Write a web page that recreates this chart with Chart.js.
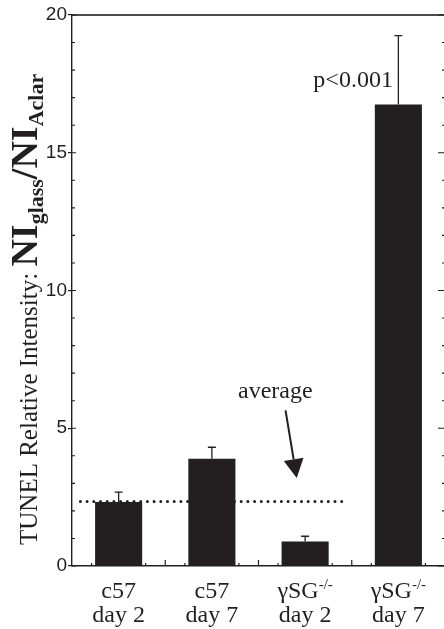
<!DOCTYPE html>
<html>
<head>
<meta charset="utf-8">
<script src="https://cdn.jsdelivr.net/npm/chart.js@4.4.1/dist/chart.umd.min.js"></script>
<style>
    html, body { margin: 0; padding: 0; background: #fff; overflow: hidden; }
    #tunel_wrap { width: 447px; height: 629px; }
</style>
</head>
<body>
<div id="tunel_wrap"><canvas id="tunel_chart" width="447" height="629"></canvas></div>
<script>
    // values
    const group_names = ['c57', 'c57', 'γSG', 'γSG'];
    const group_supers = ['', '', '-/-', '-/-'];
    const day_names = ['day 2', 'day 7', 'day 2', 'day 7'];
    const tunel_values = [2.32, 3.89, 0.89, 16.75];
    const tunel_errors = [0.36, 0.42, 0.19, 2.5];
    const average_value = 2.34;
    const average_span = [-0.41, 2.46];      // category index where the dotted line starts / stops
    const y_ticks = [0, 5, 10, 15, 20];
    const y_minor_ticks = [1, 2, 3, 4, 6, 7, 8, 9, 11, 12, 13, 14, 16, 17, 18, 19];
    const p_note = { text: 'p<0.001', category: 3, value: 17.4 };
    const avg_note = { text: 'average', category: 1.68, value: 6.1 };
    const avg_arrow = { from: [1.79, 5.65], to: [1.91, 3.19] };

    const ink = '#231f20';
    const serif = '"Liberation Serif", "Times New Roman", serif';

    function drawTitle(ctx, area) {
        const parts = [
            { t: 'TUNEL Relative Intensity: ', f: `25px ${serif}`, dy: 0 },
            { t: 'NI', f: `bold 38px ${serif}`, dy: 0 },
            { t: 'glass', f: `bold 22px ${serif}`, dy: 6 },
            { t: '/NI', f: `bold 38px ${serif}`, dy: 0 },
            { t: 'Aclar', f: `bold 22px ${serif}`, dy: 6 },
        ];
        ctx.save();
        ctx.translate(37, area.bottom - 21);
        ctx.rotate(-Math.PI / 2);
        ctx.fillStyle = ink;
        ctx.textAlign = 'left';
        ctx.textBaseline = 'alphabetic';
        let u = 0;
        for (const p of parts) {
            ctx.font = p.f;
            ctx.fillText(p.t, u, p.dy);
            u += ctx.measureText(p.t).width;
        }
        ctx.restore();
    }

    function drawCategoryLabels(ctx, chart) {
        const xs = chart.scales.x;
        const base = chart.chartArea.bottom;
        ctx.save();
        ctx.fillStyle = ink;
        ctx.textBaseline = 'alphabetic';
        group_names.forEach((name, i) => {
            const cx = xs.getPixelForValue(i);
            ctx.font = `24px ${serif}`;
            const w1 = ctx.measureText(name).width;
            ctx.font = `15px ${serif}`;
            const w2 = group_supers[i] ? ctx.measureText(group_supers[i]).width : 0;
            const left = cx - (w1 + w2) / 2;
            ctx.textAlign = 'left';
            ctx.font = `24px ${serif}`;
            ctx.fillText(name, left, base + 32);
            if (group_supers[i]) {
                ctx.font = `15px ${serif}`;
                ctx.fillText(group_supers[i], left + w1, base + 23);
            }
            ctx.font = `24px ${serif}`;
            ctx.textAlign = 'center';
            ctx.fillText(day_names[i], cx, base + 56);
        });
        ctx.restore();
    }

    const tunel_extras = {
        id: 'tunel_extras',
        beforeDatasetsDraw(chart) {
            // small inward ticks on the bottom axis
            const ctx = chart.ctx;
            const xs = chart.scales.x;
            const bottom = chart.chartArea.bottom;
            ctx.save();
            ctx.strokeStyle = ink;
            ctx.lineWidth = 1.2;
            ctx.beginPath();
            for (let i = 0; i < group_names.length; i++) {
                for (const d of [-0.29, 0.29]) {
                    const x = xs.getPixelForValue(i + d);
                    ctx.moveTo(x, bottom); ctx.lineTo(x, bottom - 3);
                }
                if (i < group_names.length - 1) {
                    const x = xs.getPixelForValue(i + 0.5);
                    ctx.moveTo(x, bottom); ctx.lineTo(x, bottom - 6);
                }
            }
            ctx.stroke();
            ctx.restore();
        },
        afterDatasetsDraw(chart) {
            const ctx = chart.ctx;
            const ys = chart.scales.y;
            const xs = chart.scales.x;
            const area = chart.chartArea;
            const meta = chart.getDatasetMeta(0);

            ctx.save();
            ctx.strokeStyle = ink;
            ctx.fillStyle = ink;

            // error bars
            ctx.lineWidth = 1.3;
            ctx.beginPath();
            meta.data.forEach((bar, i) => {
                const yTop = ys.getPixelForValue(tunel_values[i] + tunel_errors[i]);
                ctx.moveTo(bar.x, ys.getPixelForValue(tunel_values[i]));
                ctx.lineTo(bar.x, yTop);
                ctx.moveTo(bar.x - 4, yTop);
                ctx.lineTo(bar.x + 4, yTop);
            });
            ctx.stroke();

            // inward ticks on left and right axes
            ctx.lineWidth = 1.1;
            ctx.beginPath();
            for (const v of y_minor_ticks) {
                const y = ys.getPixelForValue(v);
                ctx.moveTo(area.left, y); ctx.lineTo(area.left + 3, y);
                ctx.moveTo(area.right, y); ctx.lineTo(area.right - 3, y);
            }
            for (const v of y_ticks) {
                const y = ys.getPixelForValue(v);
                ctx.moveTo(area.left, y); ctx.lineTo(area.left + 4, y);
                ctx.moveTo(area.right, y); ctx.lineTo(area.right - 7, y);
            }
            ctx.stroke();

            // notes
            ctx.font = `24px ${serif}`;
            ctx.textBaseline = 'alphabetic';
            ctx.textAlign = 'right';
            ctx.fillText(p_note.text, xs.getPixelForValue(p_note.category) - 5.5, ys.getPixelForValue(p_note.value));
            ctx.textAlign = 'center';
            ctx.fillText(avg_note.text, xs.getPixelForValue(avg_note.category), ys.getPixelForValue(avg_note.value));

            // arrow
            const x0 = xs.getPixelForValue(avg_arrow.from[0]), y0 = ys.getPixelForValue(avg_arrow.from[1]);
            const x1 = xs.getPixelForValue(avg_arrow.to[0]), y1 = ys.getPixelForValue(avg_arrow.to[1]);
            const ang = Math.atan2(y1 - y0, x1 - x0);
            const headLen = 19, headHalf = 10;
            const bx = x1 - headLen * Math.cos(ang), by = y1 - headLen * Math.sin(ang);
            ctx.lineWidth = 2;
            ctx.beginPath();
            ctx.moveTo(x0, y0);
            ctx.lineTo(bx, by);
            ctx.stroke();
            ctx.beginPath();
            ctx.moveTo(x1, y1);
            ctx.lineTo(bx + headHalf * Math.sin(ang), by - headHalf * Math.cos(ang));
            ctx.lineTo(bx - headHalf * Math.sin(ang), by + headHalf * Math.cos(ang));
            ctx.closePath();
            ctx.fill();
            ctx.restore();

            drawTitle(ctx, area);
            drawCategoryLabels(ctx, chart);
        }
    };

    let chartCanvas = document.getElementById('tunel_chart').getContext('2d');
    let chartObject = new Chart(chartCanvas, {
        type: 'bar',
        data: {
            labels: day_names.map((d, i) => `${group_names[i]}${group_supers[i]} ${d}`),
            datasets: [{
                data: tunel_values,
                backgroundColor: ink,
                borderWidth: 0,
                grouped: false,
                barPercentage: 0.505,
                categoryPercentage: 1.0,
                order: 1,
            }, {
                type: 'line',
                data: [
                    { x: average_span[0], y: average_value },
                    { x: average_span[1], y: average_value },
                ],
                xAxisID: 'xl',
                yAxisID: 'y',
                borderColor: ink,
                borderWidth: 3,
                borderDash: [0, 6.7],
                borderCapStyle: 'round',
                pointRadius: 0,
                fill: false,
                order: 0,
            }],
        },
        options: {
            responsive: false,
            animation: false,
            events: [],
            layout: { padding: { top: 15, right: 2, left: 0, bottom: 0 } },
            plugins: {
                legend: { display: false },
                tooltip: { enabled: false },
            },
            scales: {
                x: {
                    type: 'category',
                    position: 'bottom',
                    ticks: { display: false },
                    grid: { display: false, drawTicks: false },
                    border: { display: true, color: ink, width: 1.4 },
                    afterFit: s => { s.height = 63; },
                },
                x2: {
                    type: 'category',
                    position: 'top',
                    ticks: { display: false },
                    grid: { display: false, drawTicks: false },
                    border: { display: true, color: '#4a4a4a', width: 2 },
                    afterFit: s => { s.height = 0; },
                },
                xl: {
                    type: 'linear',
                    position: 'top',
                    min: -0.5,
                    max: 3.5,
                    offset: false,
                    ticks: { display: false },
                    grid: { display: false, drawTicks: false, offset: false },
                    border: { display: false },
                    afterFit: s => { s.height = 0; },
                },
                y: {
                    position: 'left',
                    min: 0,
                    max: 20,
                    afterBuildTicks: s => { s.ticks = y_ticks.map(v => ({ value: v })); },
                    ticks: {
                        color: ink,
                        padding: 1,
                        font: { family: 'Liberation Sans', size: 19 },
                    },
                    grid: { drawOnChartArea: false, tickLength: 4, color: ink, lineWidth: 1.2 },
                    border: { display: true, color: ink, width: 1.4 },
                    afterFit: s => { s.width = 72; },
                },
                y2: {
                    position: 'right',
                    min: 0,
                    max: 20,
                    ticks: { display: false },
                    grid: { display: false, drawTicks: false },
                    border: { display: true, color: ink, width: 1.4 },
                    afterFit: s => { s.width = 0; },
                },
            },
        },
        plugins: [tunel_extras],
    });
</script>
</body>
</html>
